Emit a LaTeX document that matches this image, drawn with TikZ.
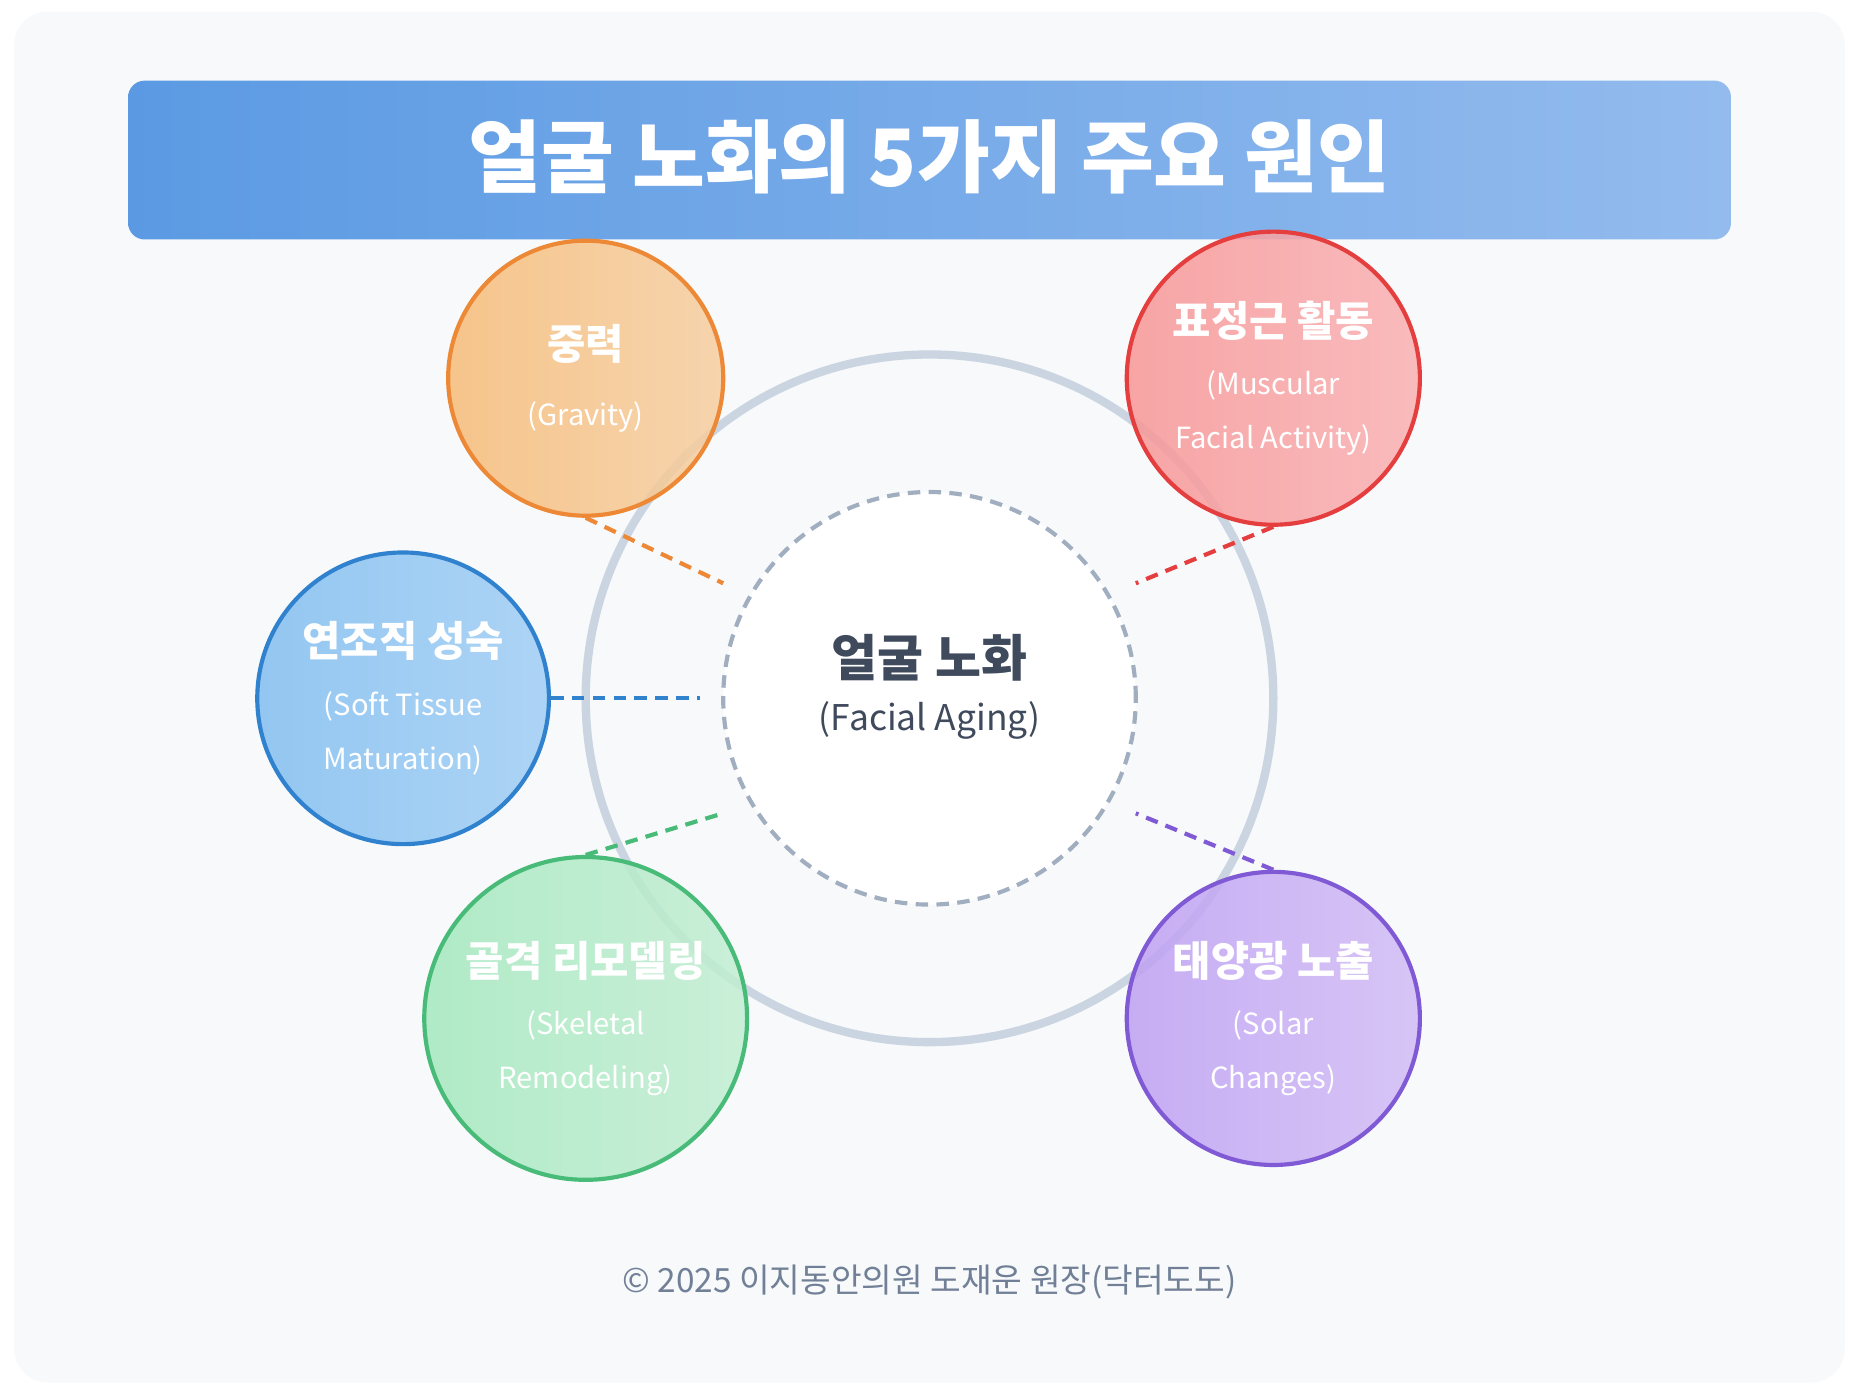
\documentclass[tikz,border=0pt]{standalone}
\usepackage{fontspec}
\setmainfont{Noto Sans CJK KR}
\usetikzlibrary{positioning}
\definecolor{bgpanel}{HTML}{F7F9FB}
\definecolor{ringgray}{HTML}{CBD5E1}
\definecolor{dashgray}{HTML}{A0AEC0}
\definecolor{textdark}{HTML}{3F4A5C}
\definecolor{footgray}{HTML}{718096}
\definecolor{orangeb}{HTML}{ED8936}
\definecolor{redb}{HTML}{E53E3E}
\definecolor{blueb}{HTML}{3182CE}
\definecolor{greenb}{HTML}{48BB78}
\definecolor{purpleb}{HTML}{805AD5}
\newcommand{\subtxt}{\mdseries\fontsize{7}{8.5}\selectfont}
\tikzset{
  cause/.style={circle, minimum size=2.32cm, line width=1pt, fill opacity=.85, text opacity=1, text=white, align=center, font=\bfseries\fontsize{10}{13}\selectfont},
  link/.style={line width=1pt, dash pattern=on 3pt off 2pt}
}
\begin{document}
\begin{tikzpicture}[x=1cm,y=-1cm]
\useasboundingbox (0,0) rectangle (15.68,11.76);
\fill[white] (0,0) rectangle (15.68,11.76);
\fill[bgpanel, rounded corners=8pt] (0.12,0.10) rectangle (15.56,11.66);
% title
\shade[left color={rgb,255:red,91;green,154;blue,227}, right color={rgb,255:red,147;green,187;blue,238}, rounded corners=4pt] (1.08,0.68) rectangle (14.60,2.02);
\node[text=white, font=\bfseries\fontsize{19}{22}\selectfont] (title) at (7.84,1.32) {얼굴 노화의 5가지 주요 원인};
% rings
\draw[ringgray, line width=2pt] (7.84,5.89) circle (2.9);
\node[circle, draw=dashgray, fill=white, minimum size=3.48cm, line width=1pt, dash pattern=on 3pt off 2pt] (aging) at (7.84,5.89) {};
\node[text=textdark, font=\bfseries\fontsize{12}{14}\selectfont] (agingkr) at (7.84,5.55) {얼굴 노화};
\node[text=textdark, font=\fontsize{8.5}{10}\selectfont] (agingen) at (7.84,6.08) {(Facial Aging)};
% causes
\node[cause, draw=orangeb, left color={rgb,255:red,246;green,188;blue,120}, right color={rgb,255:red,246;green,206;blue,160}] (gravity) at (4.94,3.19) {중력\\[3pt]{\subtxt (Gravity)}};
\node[cause, draw=redb, left color={rgb,255:red,248;green,150;blue,150}, right color={rgb,255:red,250;green,176;blue,178}] (muscle) at (10.74,3.19) {표정근 활동\\[1pt]{\subtxt (Muscular}\\{\subtxt Facial Activity)}};
\node[cause, draw=blueb, left color={rgb,255:red,130;green,190;blue,240}, right color={rgb,255:red,160;green,206;blue,244}] (tissue) at (3.40,5.89) {연조직 성숙\\[1pt]{\subtxt (Soft Tissue}\\{\subtxt Maturation)}};
\node[cause, draw=greenb, left color={rgb,255:red,164;green,232;blue,190}, right color={rgb,255:red,194;green,238;blue,210}] (skeleton) at (4.94,8.59) {골격 리모델링\\[1pt]{\subtxt (Skeletal}\\{\subtxt Remodeling)}};
\node[cause, draw=purpleb, left color={rgb,255:red,190;green,160;blue,242}, right color={rgb,255:red,210;green,188;blue,246}] (solar) at (10.74,8.59) {태양광 노출\\[1pt]{\subtxt (Solar}\\{\subtxt Changes)}};
% links
\coordinate (gin) at (6.10,4.92);
\coordinate (min) at (9.58,4.92);
\coordinate (tin) at (5.90,5.89);
\coordinate (sin) at (6.10,6.86);
\coordinate (pin) at (9.58,6.86);
\draw[link, orangeb] (gravity.south) -- (gin);
\draw[link, redb] (muscle.south) -- (min);
\draw[link, blueb] (tissue.east) -- (tin);
\draw[link, greenb] (skeleton.north) -- (sin);
\draw[link, purpleb] (solar.north) -- (pin);
% footer
\node[text=footgray, font=\fontsize{8}{10}\selectfont] (footer) at (7.84,10.81) {© 2025 이지동안의원 도재운 원장(닥터도도)};
\end{tikzpicture}
\end{document}
